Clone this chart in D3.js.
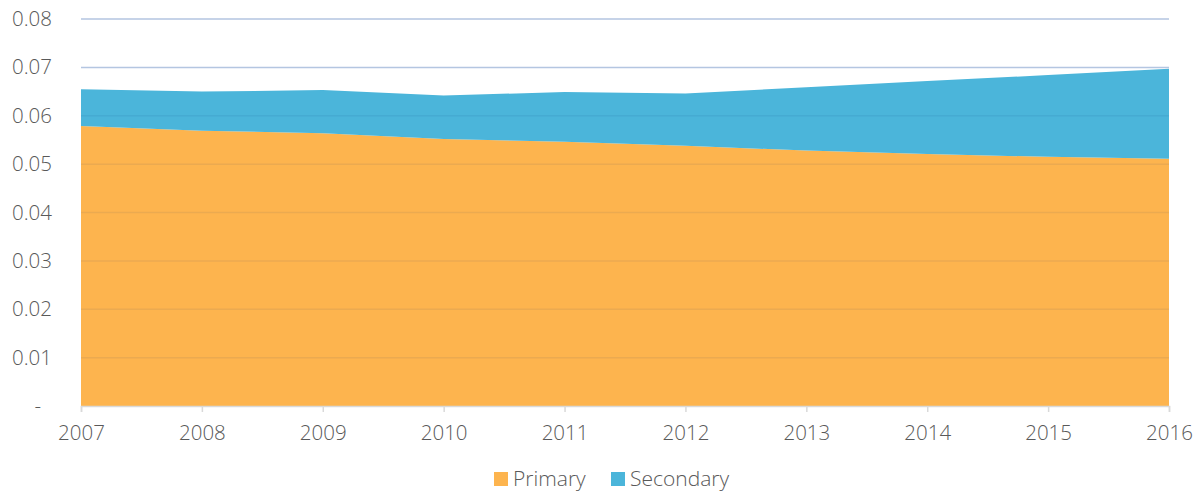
<!DOCTYPE html>
<html><head><meta charset="utf-8">
<script src="https://cdn.jsdelivr.net/npm/d3@7"></script>
<style>
body{margin:0;background:#fff;}
text{font-family:"Open Sans","Noto Sans",sans-serif;fill:#595959;font-weight:300;}
</style></head>
<body><svg id="c" width="1201" height="492"></svg>
<script>
const years = [2007,2008,2009,2010,2011,2012,2013,2014,2015,2016];
const primary   = [0.0579,0.0569,0.0564,0.0552,0.0546,0.0538,0.0528,0.0521,0.0515,0.0511];
const secondary = [0.0076,0.0081,0.0089,0.0090,0.0103,0.0108,0.0131,0.0151,0.0169,0.0186];
const seriesNames = ["Primary","Secondary"];
const seriesColors = ["#FDB44E","#4BB5DA"];
const yTicks = [0,0.01,0.02,0.03,0.04,0.05,0.06,0.07,0.08];
const yTickLabels = ["-","0.01","0.02","0.03","0.04","0.05","0.06","0.07","0.08"];

const svg = d3.select("#c");
const W=1201,H=492;
const m={left:81,right:32,top:19,bottom:86};
const x = d3.scalePoint().domain(years).range([m.left, W-m.right]);
const y = d3.scaleLinear().domain([0,0.08]).range([H-m.bottom, m.top]);

const rows = years.map((yr,i)=>({year:yr, Primary:primary[i], Secondary:secondary[i]}));
const stack = d3.stack().keys(seriesNames)(rows);

const grid = svg.append("g");
grid.selectAll("line").data(yTicks.filter(d=>d>0)).join("line")
  .attr("x1",m.left).attr("x2",W-m.right)
  .attr("y1",d=>y(d)).attr("y2",d=>y(d))
  .attr("stroke","#C2D2EA").attr("stroke-width",1.5);

const area = d3.area().x(d=>x(d.data.year)).y0(d=>y(d[0])).y1(d=>y(d[1]));
svg.append("g").selectAll("path").data(stack).join("path")
  .attr("d",area).attr("fill",(d,i)=>seriesColors[i]);

svg.append("g").selectAll("line").data(yTicks.filter(d=>d>0)).join("line")
  .attr("x1",m.left).attr("x2",W-m.right)
  .attr("y1",d=>y(d)).attr("y2",d=>y(d))
  .attr("stroke","#003070").attr("stroke-opacity",0.07).attr("stroke-width",1.5);

const xAxis = svg.append("g").attr("transform",`translate(0,${y(0)})`)
  .call(d3.axisBottom(x).tickSize(6).tickPadding(13));
xAxis.select(".domain").attr("stroke","#D9D9D9").attr("stroke-width",1.5);
xAxis.selectAll(".tick line").attr("stroke","#D9D9D9").attr("stroke-width",1.5);
xAxis.selectAll(".tick text").attr("font-size","20.5px").style("fill","#595959")
  .attr("font-family","Open Sans").attr("font-weight",300);

const yAxis = svg.append("g").attr("transform",`translate(${m.left},0)`)
  .call(d3.axisLeft(y).tickValues(yTicks).tickFormat((d,i)=>yTickLabels[i]).tickSize(0).tickPadding(29));
yAxis.select(".domain").remove();
yAxis.selectAll(".tick text").attr("font-size","20.5px").style("fill","#595959")
  .attr("font-family","Open Sans").attr("font-weight",300)
  .attr("dx",(d,i)=>yTickLabels[i]==="-"?-11:0);

const leg = svg.append("g");
const legX = [494,611];
seriesNames.forEach((n,i)=>{
  leg.append("rect").attr("x",legX[i]).attr("y",472).attr("width",14).attr("height",14).attr("fill",seriesColors[i]);
  leg.append("text").attr("x",legX[i]+19).attr("y",486).attr("font-size","21px").text(n);
});
</script></body></html>
